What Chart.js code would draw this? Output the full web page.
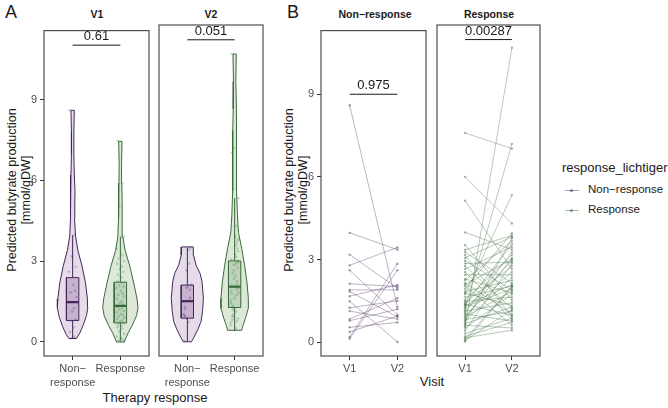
<!DOCTYPE html>
<html>
<head>
<meta charset="utf-8">
<script src="https://cdn.jsdelivr.net/npm/chart.js@4"></script>
<style>
body { margin: 0; width: 668px; height: 408px; background: #fff; position: relative; overflow: hidden; font-family: "Liberation Sans", Arial, sans-serif; color: #1a1a1a; }
.panel { position: absolute; }
.txt { position: absolute; white-space: nowrap; transform: translate(-50%, -50%); }
.strip { font-weight: bold; font-size: 10.5px; }
.tag { font-size: 18px; }
.axtitle { font-size: 13px; }
.ytitle { position: absolute; white-space: nowrap; font-size: 12.5px; line-height: 14px; text-align: center; transform: translate(-50%, -50%) rotate(-90deg); }
.leg { position: absolute; white-space: nowrap; font-size: 11.5px; }
.legline { position: absolute; width: 14px; height: 1px; }
.legdot { position: absolute; width: 3px; height: 3px; border-radius: 50%; }
</style>
</head>
<body>

<div class="txt tag" style="left:11px;top:12px">A</div>
<div class="txt tag" style="left:293px;top:12px">B</div>

<div class="txt strip" style="left:97px;top:14px">V1</div>
<div class="txt strip" style="left:211px;top:14px">V2</div>
<div class="txt strip" style="left:375px;top:14px">Non−response</div>
<div class="txt strip" style="left:489px;top:14px">Response</div>

<div class="ytitle" style="left:19px;top:190px">Predicted butyrate production<br>[mmol/gDW]</div>
<div class="ytitle" style="left:296px;top:190px">Predicted butyrate production<br>[mmol/gDW]</div>

<div class="txt axtitle" style="left:155px;top:397px">Therapy response</div>
<div class="txt axtitle" style="left:432px;top:381px">Visit</div>

<div class="leg" style="left:562px;top:160px;font-size:13px">response_lichtiger</div>
<div class="legline" style="left:565px;top:190px;background:rgba(74,42,92,0.45)"></div>
<div class="legdot" style="left:570px;top:189px;background:rgba(74,42,92,0.6)"></div>
<div class="leg" style="left:588px;top:183px">Non−response</div>
<div class="legline" style="left:565px;top:210px;background:rgba(58,107,58,0.45)"></div>
<div class="legdot" style="left:570px;top:209px;background:rgba(58,107,58,0.6)"></div>
<div class="leg" style="left:588px;top:203px">Response</div>

<div class="panel" style="left:14px;top:21px;width:139px;height:379px"><canvas id="aV1"></canvas></div>
<div class="panel" style="left:155px;top:21px;width:112px;height:379px"><canvas id="aV2"></canvas></div>
<div class="panel" style="left:291px;top:21px;width:139px;height:379px"><canvas id="bNR"></canvas></div>
<div class="panel" style="left:433px;top:21px;width:111px;height:379px"><canvas id="bR"></canvas></div>

<script>
// paired values per patient, V1 and V2 (mmol/gDW)
var nrV1 = [8.6, 3.97, 3.18, 2.79, 2.61, 2.12, 1.90, 1.84, 1.67, 1.49, 1.25, 1.13, 0.84, 0.78, 0.54, 0.37, 0.19, 0.13];
var nrV2 = [1.28, 3.36, 1.96, 3.44, 1.0, 2.02, 1.9, 0.92, 2.08, 0.01, 1.5, 0.84, 1.6, 1.2, 0.72, 0.95, 2.85, 2.61];

var rV1 = [7.46, 5.89, 5.04, 3.91, 3.46, 3.29, 3.2, 3.1, 3.0, 2.9, 2.8, 2.7, 2.6, 2.5, 2.4, 2.25, 2.2, 2.1, 2.05, 2.0,
           1.9, 1.8, 1.75, 1.7, 1.6, 1.5, 1.45, 1.4, 1.35, 1.33, 1.3, 1.25, 1.2, 1.15, 1.1, 1.05, 1.0, 0.95, 0.9, 0.85,
           0.8, 0.75, 0.7, 0.65, 0.6, 0.55, 0.5, 0.4, 0.3, 0.2, 0.15, 0.1, 0.05, 0.02];
var rV2 = [6.9, 4.23, 2.6, 3.3, 1.5, 3.8, 2.1, 0.9, 3.75, 1.85, 2.85, 1.2, 3.4, 0.8, 2.4, 1.75, 3.6, 1.0, 2.95, 0.6,
           3.88, 2.2, 1.3, 5.24, 2.0, 3.1, 1.6, 2.7, 0.95, 3.5, 2.05, 1.9, 7.07, 2.9, 1.4, 3.2, 0.75, 2.5, 1.8, 3.0,
           1.1, 2.3, 3.7, 1.25, 0.5, 10.5, 1.7, 2.8, 0.85, 0.7, 0.42, 2.0, 1.15, 1.95];

// boxplot stats: [lower whisker, q1, median, q3, upper whisker]
var boxNrV1 = [0.13, 0.80, 1.48, 2.39, 3.97];
var boxRV1 = [0.02, 0.71, 1.34, 2.22, 3.91];
var boxNrV2 = [0.01, 0.86, 1.48, 2.07, 3.44];
var boxRV2 = [0.42, 1.25, 2.01, 2.95, 5.24];

// violin outlines: value levels and half widths (category units)
var vioNrV1Y = [0.13, 0.33, 0.62, 0.98, 1.28, 1.6, 2.19, 2.8, 3.4, 3.95, 4.6, 5.2, 5.6, 6.2, 7.0, 7.8, 8.6];
var vioNrV1W = [0.08, 0.15, 0.22, 0.29, 0.32, 0.31, 0.27, 0.2, 0.11, 0.06, 0.04, 0.045, 0.05, 0.035, 0.025, 0.025, 0.035];
var vioRV1Y = [0.0, 0.33, 0.62, 0.98, 1.28, 1.6, 2.19, 2.8, 3.4, 3.88, 4.6, 5.2, 5.9, 6.6, 7.45];
var vioRV1W = [0.08, 0.16, 0.25, 0.34, 0.37, 0.35, 0.28, 0.2, 0.1, 0.055, 0.035, 0.04, 0.03, 0.025, 0.035];
var vioNrV2Y = [0.0, 0.13, 0.44, 0.74, 1.1, 1.58, 2.19, 2.49, 2.79, 3.16, 3.46];
var vioNrV2W = [0.085, 0.13, 0.22, 0.29, 0.32, 0.34, 0.31, 0.27, 0.185, 0.13, 0.125];
var vioRV2Y = [0.42, 0.56, 0.86, 1.22, 1.58, 2.19, 2.79, 3.4, 4.0, 4.6, 5.5, 6.2, 7.0, 7.7, 8.5, 9.5, 10.5];
var vioRV2W = [0.15, 0.17, 0.23, 0.29, 0.29, 0.26, 0.21, 0.15, 0.08, 0.06, 0.04, 0.035, 0.05, 0.04, 0.03, 0.025, 0.035];

var groupLabels = [["Non−", "response"], ["Response"]];
var visitLabels = ["V1", "V2"];
var yTicks = [0, 3, 6, 9];
var pA = ["0.61", "0.051"];
var pB = ["0.975", "0.00287"];
var bracketA = [11.02, 11.02];
var bracketB = [9.0, 10.79];

var jitter = [-0.06, 0.04, -0.02, 0.07, -0.08, 0.01, 0.05, -0.04, 0.08, -0.07, 0.03, -0.01, 0.06, -0.05, 0.02];

var colNR = {line: "#45265a", fill: "#e5dbe9", box: "#c6b2cf", pt: "rgba(70,40,90,0.25)", pair: "rgba(74,42,92,0.45)"};
var colR = {line: "#3a6a3a", fill: "#dde8d8", box: "#bed3b9", pt: "rgba(60,105,60,0.25)", pair: "rgba(58,107,58,0.45)"};

var frame = {
    id: "frame",
    afterDraw: function(chart) {
        var a = chart.chartArea, ctx = chart.ctx;
        ctx.save();
        ctx.strokeStyle = "#4d4d4d";
        ctx.lineWidth = 1.2;
        ctx.strokeRect(a.left, a.top, a.right - a.left, a.bottom - a.top);
        ctx.restore();
    }
};

var pLabel = {
    id: "pLabel",
    afterDatasetsDraw: function(chart, args, opts) {
        if (!opts.text) return;
        var ctx = chart.ctx;
        var x = chart.scales.x.getPixelForValue(1.5);
        var y = chart.scales.y.getPixelForValue(opts.y);
        ctx.save();
        ctx.font = '13px "Liberation Sans", Arial, sans-serif';
        ctx.fillStyle = "#1a1a1a";
        ctx.textAlign = "center";
        ctx.textBaseline = "bottom";
        ctx.fillText(opts.text, x, y - 2);
        ctx.restore();
    }
};

function seg(points, color, width, order) {
    return {data: points, showLine: true, borderColor: color, borderWidth: width, pointRadius: 0, fill: false, order: order};
}

function violinSets(c, vals, box, vy, vw, col) {
    var bw = 0.13;
    var sets = [];
    sets.push({
        data: vals.map(function(v, i) { return {x: c + jitter[i % jitter.length], y: v}; }),
        showLine: false, pointRadius: 1.3, pointBackgroundColor: col.pt, pointBorderWidth: 0, order: 0
    });
    sets.push(seg([{x: c - bw, y: box[2]}, {x: c + bw, y: box[2]}], col.line, 2.2, 1));
    var rect = [{x: c - bw, y: box[1]}, {x: c + bw, y: box[1]}, {x: c + bw, y: box[3]}, {x: c - bw, y: box[3]}, {x: c - bw, y: box[1]}];
    var b = seg(rect, col.line, 1, 2);
    b.fill = "shape";
    b.backgroundColor = col.box;
    sets.push(b);
    sets.push(seg([{x: c, y: box[0]}, {x: c, y: box[1]}], col.line, 1, 3));
    sets.push(seg([{x: c, y: box[3]}, {x: c, y: box[4]}], col.line, 1, 3));
    var outline = [];
    for (var i = 0; i < vy.length; i++) outline.push({x: c + vw[i], y: vy[i]});
    for (var j = vy.length - 1; j >= 0; j--) outline.push({x: c - vw[j], y: vy[j]});
    outline.push({x: c + vw[0], y: vy[0]});
    var v = seg(outline, col.line, 1, 4);
    v.fill = "shape";
    v.backgroundColor = col.fill;
    sets.push(v);
    return sets;
}

function pairSets(a, b, col) {
    var sets = [];
    for (var i = 0; i < a.length; i++) {
        sets.push({
            data: [{x: 1, y: a[i]}, {x: 2, y: b[i]}],
            showLine: true, borderColor: col.pair, borderWidth: 0.8,
            pointRadius: 1.2, pointBackgroundColor: col.pair, pointBorderWidth: 0, order: 1
        });
    }
    return sets;
}

function makePanel(id, datasets, opts) {
    return new Chart(document.getElementById(id), {
        type: "scatter",
        data: {datasets: datasets},
        plugins: [frame, pLabel],
        options: {
            responsive: true,
            maintainAspectRatio: false,
            animation: false,
            layout: {padding: {top: 2, right: 2, bottom: 0, left: opts.showY ? 0 : 2}},
            plugins: {
                legend: {display: false},
                tooltip: {enabled: false},
                pLabel: {text: opts.pval, y: opts.bracket}
            },
            scales: {
                x: {
                    type: "linear", min: 0.4, max: 2.6,
                    afterBuildTicks: function(s) { s.ticks = [{value: 1}, {value: 2}]; },
                    afterFit: function(s) { s.height = 44; },
                    ticks: {
                        callback: function(v) { return opts.xLabels[v - 1]; },
                        font: {family: '"Liberation Sans", Arial, sans-serif', size: 11, lineHeight: 1.25},
                        color: "#4d4d4d", padding: 2, maxRotation: 0, autoSkip: false
                    },
                    grid: {drawOnChartArea: false, tickLength: 4, color: "#333"},
                    border: {display: false}
                },
                y: {
                    display: opts.showY,
                    min: opts.yMin, max: opts.yMax,
                    afterBuildTicks: function(s) { s.ticks = yTicks.map(function(v) { return {value: v}; }); },
                    afterFit: function(s) { s.width = opts.showY ? 30 : 0; },
                    ticks: {
                        font: {family: '"Liberation Sans", Arial, sans-serif', size: 11},
                        color: "#4d4d4d", padding: 3
                    },
                    grid: {drawOnChartArea: false, tickLength: 4, color: "#333"},
                    border: {display: false}
                }
            }
        }
    });
}

var aV1Sets = [].concat(
    violinSets(1, nrV1, boxNrV1, vioNrV1Y, vioNrV1W, colNR),
    violinSets(2, rV1, boxRV1, vioRV1Y, vioRV1W, colR),
    [seg([{x: 1, y: bracketA[0]}, {x: 2, y: bracketA[0]}], "#1a1a1a", 1, 0)]
);
var aV2Sets = [].concat(
    violinSets(1, nrV2, boxNrV2, vioNrV2Y, vioNrV2W, colNR),
    violinSets(2, rV2, boxRV2, vioRV2Y, vioRV2W, colR),
    [seg([{x: 1, y: bracketA[1]}, {x: 2, y: bracketA[1]}], "#1a1a1a", 1, 0)]
);
var bNRSets = pairSets(nrV1, nrV2, colNR).concat([seg([{x: 1, y: bracketB[0]}, {x: 2, y: bracketB[0]}], "#1a1a1a", 1, 0)]);
var bRSets = pairSets(rV1, rV2, colR).concat([seg([{x: 1, y: bracketB[1]}, {x: 2, y: bracketB[1]}], "#1a1a1a", 1, 0)]);

makePanel("aV1", aV1Sets, {showY: true, yMin: -0.52, yMax: 11.56, xLabels: groupLabels, pval: pA[0], bracket: bracketA[0]});
makePanel("aV2", aV2Sets, {showY: false, yMin: -0.52, yMax: 11.56, xLabels: groupLabels, pval: pA[1], bracket: bracketA[1]});
makePanel("bNR", bNRSets, {showY: true, yMin: -0.5, yMax: 11.31, xLabels: visitLabels, pval: pB[0], bracket: bracketB[0]});
makePanel("bR", bRSets, {showY: false, yMin: -0.5, yMax: 11.31, xLabels: visitLabels, pval: pB[1], bracket: bracketB[1]});
</script>
</body>
</html>
